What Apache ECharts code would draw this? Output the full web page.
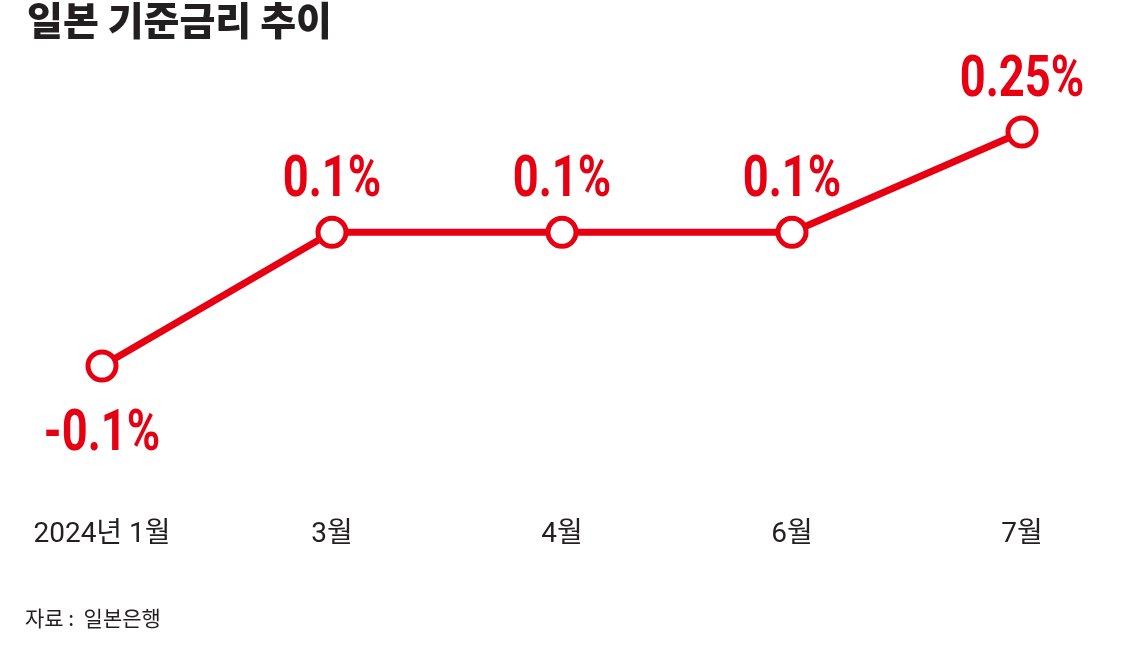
<!DOCTYPE html>
<html>
<head>
<meta charset="utf-8">
<script src="https://cdn.jsdelivr.net/npm/echarts@6/dist/echarts.min.js"></script>
<style>
html,body{margin:0;padding:0;background:#fff;}
#c{width:1126px;height:654px;}
</style>
</head>
<body>
<div id="c"></div>
<script>
const categories = ['2024년 1월', '3월', '4월', '6월', '7월'];
const rates = [-0.1, 0.1, 0.1, 0.1, 0.25];
const valueLabels = ['-0.1%', '0.1%', '0.1%', '0.1%', '0.25%'];
const titleText = '일본 기준금리 추이';
const sourceText = '자료 :  일본은행';

const RED = '#e60012';
const DARK = '#231f20';

const chart = echarts.init(document.getElementById('c'));
chart.setOption({
  animation: false,
  backgroundColor: '#fff',
  grid: { left: 102, right: 104, top: 132, bottom: 288 },
  xAxis: {
    type: 'category',
    data: categories,
    boundaryGap: false,
    axisLine: { show: false },
    axisTick: { show: false },
    splitLine: { show: false },
    axisLabel: { margin: 155, color: DARK, fontSize: 28, fontFamily: 'Roboto, "Noto Sans CJK KR", sans-serif' }
  },
  yAxis: { type: 'value', min: -0.1, max: 0.25, show: false },
  series: [{
    type: 'line',
    data: rates,
    clip: false,
    symbol: 'circle',
    symbolSize: 28,
    lineStyle: { color: RED, width: 7 },
    itemStyle: { color: '#fff', borderColor: RED, borderWidth: 5 },
    label: { show: false }
  }]
});

// value labels placed through the chart's own coordinate conversion
const labelGraphics = rates.map((v, i) => {
  const p = chart.convertToPixel({ seriesIndex: 0 }, [i, v]);
  return {
    type: 'text',
    id: 'lbl' + i,
    x: p[0],
    y: p[1] + (v < 0 ? 69 : -51),
    scaleX: 0.78,
    style: {
      text: valueLabels[i],
      font: 'bold 58px Roboto, "Noto Sans CJK KR", sans-serif',
      fill: RED,
      align: 'center',
      verticalAlign: 'middle'
    }
  };
});

chart.setOption({
  graphic: [
    { type: 'text', id: 'title', left: 27, top: 1, style: { text: titleText, font: '900 39px "Noto Sans CJK KR"', fill: DARK } },
    { type: 'text', id: 'src', left: 25, top: 608, style: { text: sourceText, font: '400 21px "Noto Sans CJK KR"', fill: DARK } }
  ].concat(labelGraphics)
});
</script>
</body>
</html>
